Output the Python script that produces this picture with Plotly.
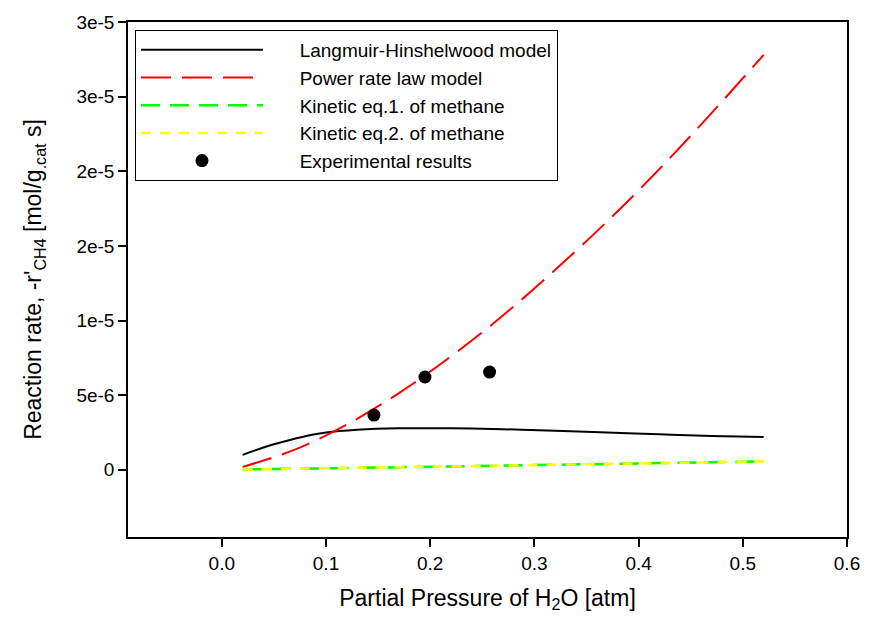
import plotly.graph_objects as go

# ---- data ----
x_lh = [0.02, 0.04, 0.06, 0.08, 0.10, 0.13, 0.17, 0.22, 0.27, 0.32, 0.37, 0.42, 0.47, 0.52]
y_lh = [1.0e-6, 1.5e-6, 1.9e-6, 2.25e-6, 2.5e-6, 2.68e-6, 2.78e-6, 2.78e-6, 2.72e-6, 2.62e-6,
        2.5e-6, 2.38e-6, 2.27e-6, 2.2e-6]

x_pw = [0.02, 0.07, 0.12, 0.17, 0.22, 0.27, 0.32, 0.37, 0.42, 0.47, 0.52]
y_pw = [0.2e-6, 1.35e-6, 3.04e-6, 5.14e-6, 7.6e-6, 10.35e-6, 13.4e-6, 16.65e-6, 20.15e-6,
        23.9e-6, 27.8e-6]

x_k1 = [0.02, 0.12, 0.22, 0.32, 0.42, 0.52]
y_k1 = [0.02e-6, 0.12e-6, 0.23e-6, 0.34e-6, 0.45e-6, 0.56e-6]

x_k2 = [0.02, 0.12, 0.22, 0.32, 0.42, 0.52]
y_k2 = [0.02e-6, 0.12e-6, 0.23e-6, 0.34e-6, 0.45e-6, 0.56e-6]

x_exp = [0.146, 0.195, 0.257]
y_exp = [3.67e-6, 6.22e-6, 6.55e-6]

y_tickvals = [0, 5e-6, 1e-5, 1.5e-5, 2e-5, 2.5e-5, 3e-5]
y_ticktext = ["0", "5e-6", "1e-5", "2e-5", "2e-5", "3e-5", "3e-5"]
x_tickvals = [0.0, 0.1, 0.2, 0.3, 0.4, 0.5, 0.6]
x_ticktext = ["0.0", "0.1", "0.2", "0.3", "0.4", "0.5", "0.6"]

names = ["Langmuir-Hinshelwood model", "Power rate law model", "Kinetic eq.1. of methane",
         "Kinetic eq.2. of methane", "Experimental results"]

FONT = "Liberation Sans, Arial, sans-serif"
PAD = "\u00a0" * 6

fig = go.Figure()
fig.add_trace(go.Scatter(x=x_lh, y=y_lh, mode="lines", name=PAD + names[0],
                         line=dict(color="black", width=2, shape="spline")))
fig.add_trace(go.Scatter(x=x_pw, y=y_pw, mode="lines", name=PAD + names[1],
                         line=dict(color="#FF0000", width=2, dash="30px,11px", shape="spline")))
fig.add_trace(go.Scatter(x=x_k1, y=y_k1, mode="lines", name=PAD + names[2],
                         line=dict(color="#00FF00", width=2.5, dash="19px,10px", shape="spline")))
fig.add_trace(go.Scatter(x=x_k2, y=y_k2, mode="lines", name=PAD + names[3],
                         line=dict(color="#FFFF00", width=2.5, dash="10px,9px", shape="spline")))
fig.add_trace(go.Scatter(x=x_exp, y=y_exp, mode="markers", name=PAD + names[4],
                         marker=dict(color="black", size=13)))

fig.update_layout(
    width=873, height=625,
    margin=dict(l=128, r=26, t=19, b=88),
    paper_bgcolor="white", plot_bgcolor="white",
    font=dict(family=FONT, color="black", size=19),
    showlegend=True,
    legend=dict(x=0.0097, y=0.9846, xanchor="left", yanchor="top",
                bordercolor="black", borderwidth=1, bgcolor="white",
                font=dict(size=19, family=FONT, color="black"),
                itemwidth=122, tracegroupgap=0),
)
fig.update_xaxes(
    range=[-0.09, 0.6], tickvals=x_tickvals, ticktext=x_ticktext,
    showgrid=False, zeroline=False, showline=True, linecolor="black", linewidth=1.5,
    mirror=True, ticks="outside", ticklen=8, tickwidth=1.5, tickcolor="black",
    tickfont=dict(size=19),
    title=dict(text="Partial Pressure of H<sub>2</sub>O [atm]", font=dict(size=23), standoff=17),
)
fig.update_yaxes(
    range=[-4.5e-6, 3e-5], tickvals=y_tickvals, ticktext=y_ticktext,
    showgrid=False, zeroline=False, showline=True, linecolor="black", linewidth=1.5,
    mirror=True, ticks="outside", ticklen=8, tickwidth=1.5, tickcolor="black",
    tickfont=dict(size=19),
    title=dict(text="Reaction rate, -r'<sub>CH4</sub> [mol/g<sub>.cat</sub> s]",
               font=dict(size=23), standoff=28),
)

fig.write_html("out.html")
